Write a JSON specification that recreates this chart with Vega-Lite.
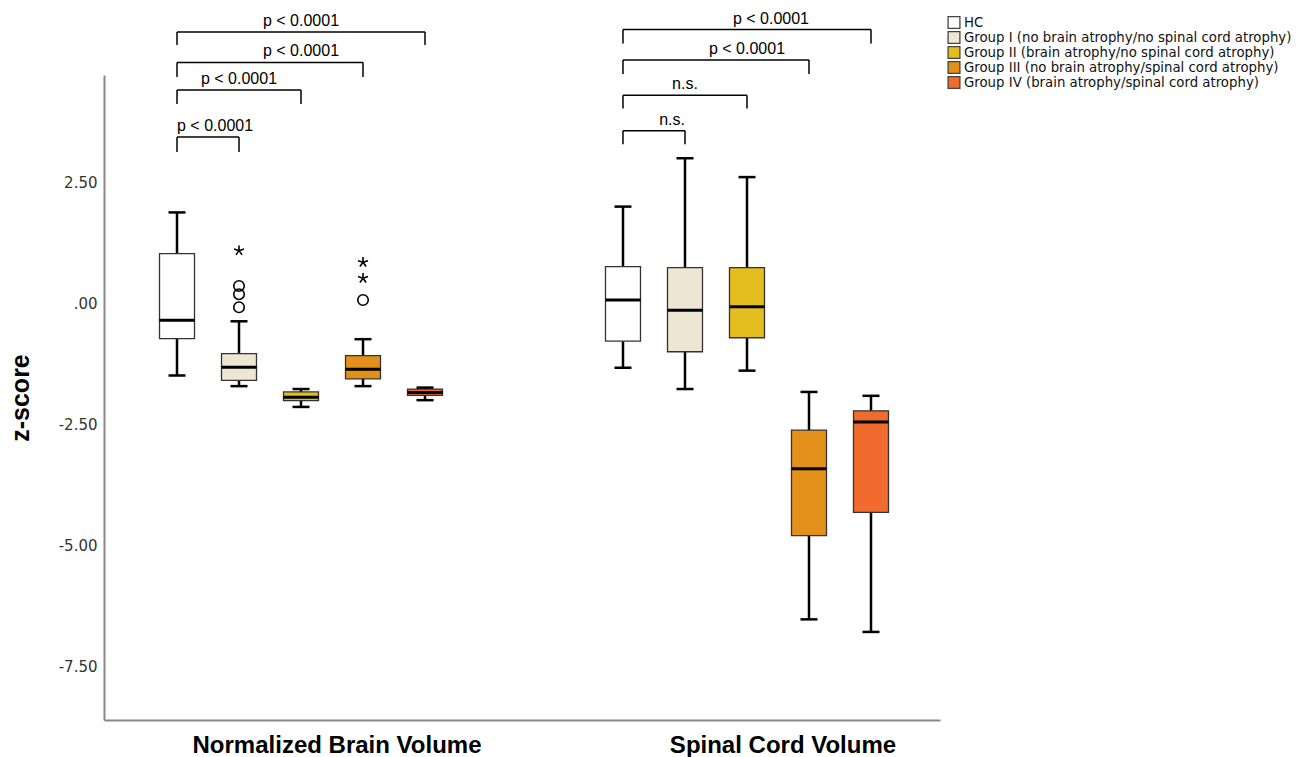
{
  "$schema": "https://vega.github.io/schema/vega-lite/v6.json",
  "width": 836,
  "height": 645,
  "autosize": "none",
  "padding": {"left": 104, "top": 75, "right": 359, "bottom": 37},
  "background": "white",
  "config": {"view": {"stroke": null}, "font": "Liberation Sans"},
  "datasets": {
    "boxes": [
      {"measure": "Normalized Brain Volume", "group": "HC", "lower": -1.49, "q1": -0.73, "median": -0.35, "q3": 1.03, "upper": 1.88},
      {"measure": "Normalized Brain Volume", "group": "Group I (no brain atrophy/no spinal cord atrophy)", "lower": -1.71, "q1": -1.59, "median": -1.32, "q3": -1.04, "upper": -0.37},
      {"measure": "Normalized Brain Volume", "group": "Group II (brain atrophy/no spinal cord atrophy)", "lower": -2.14, "q1": -2.01, "median": -1.94, "q3": -1.83, "upper": -1.77},
      {"measure": "Normalized Brain Volume", "group": "Group III (no brain atrophy/spinal cord atrophy)", "lower": -1.71, "q1": -1.56, "median": -1.36, "q3": -1.08, "upper": -0.74},
      {"measure": "Normalized Brain Volume", "group": "Group IV (brain atrophy/spinal cord atrophy)", "lower": -2.0, "q1": -1.9, "median": -1.84, "q3": -1.77, "upper": -1.74},
      {"measure": "Spinal Cord Volume", "group": "HC", "lower": -1.33, "q1": -0.78, "median": 0.07, "q3": 0.76, "upper": 2.0},
      {"measure": "Spinal Cord Volume", "group": "Group I (no brain atrophy/no spinal cord atrophy)", "lower": -1.77, "q1": -1.0, "median": -0.14, "q3": 0.74, "upper": 3.0},
      {"measure": "Spinal Cord Volume", "group": "Group II (brain atrophy/no spinal cord atrophy)", "lower": -1.39, "q1": -0.71, "median": -0.07, "q3": 0.74, "upper": 2.61},
      {"measure": "Spinal Cord Volume", "group": "Group III (no brain atrophy/spinal cord atrophy)", "lower": -6.53, "q1": -4.8, "median": -3.42, "q3": -2.62, "upper": -1.83},
      {"measure": "Spinal Cord Volume", "group": "Group IV (brain atrophy/spinal cord atrophy)", "lower": -6.79, "q1": -4.32, "median": -2.45, "q3": -2.22, "upper": -1.91}
    ],
    "outliers": [
      {"measure": "Normalized Brain Volume", "group": "Group I (no brain atrophy/no spinal cord atrophy)", "value": 1.09, "kind": "extreme"},
      {"measure": "Normalized Brain Volume", "group": "Group I (no brain atrophy/no spinal cord atrophy)", "value": 0.36, "kind": "outlier"},
      {"measure": "Normalized Brain Volume", "group": "Group I (no brain atrophy/no spinal cord atrophy)", "value": 0.19, "kind": "outlier"},
      {"measure": "Normalized Brain Volume", "group": "Group I (no brain atrophy/no spinal cord atrophy)", "value": -0.08, "kind": "outlier"},
      {"measure": "Normalized Brain Volume", "group": "Group III (no brain atrophy/spinal cord atrophy)", "value": 0.85, "kind": "extreme"},
      {"measure": "Normalized Brain Volume", "group": "Group III (no brain atrophy/spinal cord atrophy)", "value": 0.52, "kind": "extreme"},
      {"measure": "Normalized Brain Volume", "group": "Group III (no brain atrophy/spinal cord atrophy)", "value": 0.07, "kind": "outlier"}
    ],
    "brackets": [
      {"measure": "Normalized Brain Volume", "bracket": 1, "group": "HC", "top": 5.61, "bottom": 5.34},
      {"measure": "Normalized Brain Volume", "bracket": 1, "group": "Group IV (brain atrophy/spinal cord atrophy)", "top": 5.61, "bottom": 5.34},
      {"measure": "Normalized Brain Volume", "bracket": 2, "group": "HC", "top": 4.98, "bottom": 4.68},
      {"measure": "Normalized Brain Volume", "bracket": 2, "group": "Group III (no brain atrophy/spinal cord atrophy)", "top": 4.98, "bottom": 4.68},
      {"measure": "Normalized Brain Volume", "bracket": 3, "group": "HC", "top": 4.41, "bottom": 4.12},
      {"measure": "Normalized Brain Volume", "bracket": 3, "group": "Group II (brain atrophy/no spinal cord atrophy)", "top": 4.41, "bottom": 4.12},
      {"measure": "Normalized Brain Volume", "bracket": 4, "group": "HC", "top": 3.44, "bottom": 3.13},
      {"measure": "Normalized Brain Volume", "bracket": 4, "group": "Group I (no brain atrophy/no spinal cord atrophy)", "top": 3.44, "bottom": 3.13},
      {"measure": "Spinal Cord Volume", "bracket": 5, "group": "HC", "top": 5.66, "bottom": 5.37},
      {"measure": "Spinal Cord Volume", "bracket": 5, "group": "Group IV (brain atrophy/spinal cord atrophy)", "top": 5.66, "bottom": 5.37},
      {"measure": "Spinal Cord Volume", "bracket": 6, "group": "HC", "top": 5.03, "bottom": 4.74},
      {"measure": "Spinal Cord Volume", "bracket": 6, "group": "Group III (no brain atrophy/spinal cord atrophy)", "top": 5.03, "bottom": 4.74},
      {"measure": "Spinal Cord Volume", "bracket": 7, "group": "HC", "top": 4.3, "bottom": 4.03},
      {"measure": "Spinal Cord Volume", "bracket": 7, "group": "Group II (brain atrophy/no spinal cord atrophy)", "top": 4.3, "bottom": 4.03},
      {"measure": "Spinal Cord Volume", "bracket": 8, "group": "HC", "top": 3.57, "bottom": 3.29},
      {"measure": "Spinal Cord Volume", "bracket": 8, "group": "Group I (no brain atrophy/no spinal cord atrophy)", "top": 3.57, "bottom": 3.29}
    ],
    "labels_center": [
      {"measure": "Normalized Brain Volume", "group": "Group II (brain atrophy/no spinal cord atrophy)", "top": 5.61, "label": "p < 0.0001"},
      {"measure": "Normalized Brain Volume", "group": "Group II (brain atrophy/no spinal cord atrophy)", "top": 4.98, "label": "p < 0.0001"},
      {"measure": "Normalized Brain Volume", "group": "Group I (no brain atrophy/no spinal cord atrophy)", "top": 4.41, "label": "p < 0.0001"},
      {"measure": "Spinal Cord Volume", "group": "Group II (brain atrophy/no spinal cord atrophy)", "top": 5.03, "label": "p < 0.0001"},
      {"measure": "Spinal Cord Volume", "group": "Group I (no brain atrophy/no spinal cord atrophy)", "top": 4.3, "label": "n.s."}
    ],
    "labels_left": [
      {"measure": "Normalized Brain Volume", "group": "HC", "top": 3.44, "label": "p < 0.0001"}
    ],
    "labels_right": [
      {"measure": "Spinal Cord Volume", "group": "Group III (no brain atrophy/spinal cord atrophy)", "top": 5.66, "label": "p < 0.0001"},
      {"measure": "Spinal Cord Volume", "group": "Group I (no brain atrophy/no spinal cord atrophy)", "top": 3.57, "label": "n.s."}
    ]
  },
  "encoding": {
    "x": {
      "field": "measure",
      "type": "nominal",
      "scale": {"domain": ["Normalized Brain Volume", "Spinal Cord Volume"], "paddingInner": 0.3049, "paddingOuter": 0.0897, "align": 0.525},
      "axis": {"title": null, "ticks": false, "tickSize": 0, "domainColor": "#888888", "domainWidth": 2, "labelFont": "Liberation Sans", "labelFontSize": 24, "labelFontWeight": "bold", "labelColor": "black", "labelPadding": 13, "labelAngle": 0, "labelOffset": 36, "labelLimit": 400}
    },
    "xOffset": {
      "field": "group",
      "type": "nominal",
      "scale": {"domain": ["HC", "Group I (no brain atrophy/no spinal cord atrophy)", "Group II (brain atrophy/no spinal cord atrophy)", "Group III (no brain atrophy/spinal cord atrophy)", "Group IV (brain atrophy/spinal cord atrophy)"], "paddingInner": 0, "paddingOuter": 0}
    }
  },
  "layer": [
    {
      "data": {"name": "boxes"},
      "mark": {"type": "rule", "color": "black", "strokeWidth": 2.5, "opacity": 1},
      "encoding": {
        "y": {"field": "lower", "type": "quantitative", "title": "z-score", "scale": {"domain": [-8.61, 4.72], "nice": false, "zero": false}, "axis": {"values": [-7.5, -5, -2.5, 0, 2.5], "labelExpr": "datum.value == 0 ? '.00' : replace(format(datum.value, '.2f'), '\u2212', '-')", "ticks": false, "tickSize": 0, "grid": false, "domainColor": "#888888", "domainWidth": 2, "labelFont": "DejaVu Sans", "labelFontSize": 15, "labelColor": "#333333", "labelPadding": 7, "titleFont": "Liberation Sans", "titleFontSize": 25, "titleFontWeight": "bold", "titleColor": "black", "titleX": -84, "titleBaseline": "middle", "titleAngle": 270}},
        "y2": {"field": "upper"}
      }
    },
    {
      "data": {"name": "boxes"},
      "mark": {"type": "bar", "width": 35, "stroke": "#333333", "strokeWidth": 1.3, "opacity": 1},
      "encoding": {
        "y": {"field": "q1", "type": "quantitative", "title": "z-score", "scale": {"domain": [-8.61, 4.72], "nice": false, "zero": false}, "axis": {"values": [-7.5, -5, -2.5, 0, 2.5], "labelExpr": "datum.value == 0 ? '.00' : replace(format(datum.value, '.2f'), '\u2212', '-')", "ticks": false, "tickSize": 0, "grid": false, "domainColor": "#888888", "domainWidth": 2, "labelFont": "DejaVu Sans", "labelFontSize": 15, "labelColor": "#333333", "labelPadding": 7, "titleFont": "Liberation Sans", "titleFontSize": 25, "titleFontWeight": "bold", "titleColor": "black", "titleX": -84, "titleBaseline": "middle", "titleAngle": 270}},
        "y2": {"field": "q3"},
        "fill": {
          "field": "group", "type": "nominal",
          "scale": {"domain": ["HC", "Group I (no brain atrophy/no spinal cord atrophy)", "Group II (brain atrophy/no spinal cord atrophy)", "Group III (no brain atrophy/spinal cord atrophy)", "Group IV (brain atrophy/spinal cord atrophy)"], "range": ["#ffffff", "#ede6d3", "#e3be21", "#e3901a", "#f26b2e"]},
          "legend": {"title": null, "orient": "none", "legendX": 843, "legendY": -60, "symbolType": "square", "symbolSize": 140, "symbolStrokeColor": "#444444", "symbolStrokeWidth": 1.3, "labelFont": "DejaVu Sans", "labelFontSize": 13.3, "labelColor": "#111111", "rowPadding": 0, "clipHeight": 15, "labelOffset": 3, "padding": 0, "labelLimit": 400}
        }
      }
    },
    {
      "data": {"name": "boxes"},
      "mark": {"type": "tick", "color": "black", "size": 35, "thickness": 3, "opacity": 1},
      "encoding": {
        "y": {"field": "median", "type": "quantitative", "title": "z-score", "scale": {"domain": [-8.61, 4.72], "nice": false, "zero": false}, "axis": {"values": [-7.5, -5, -2.5, 0, 2.5], "labelExpr": "datum.value == 0 ? '.00' : replace(format(datum.value, '.2f'), '\u2212', '-')", "ticks": false, "tickSize": 0, "grid": false, "domainColor": "#888888", "domainWidth": 2, "labelFont": "DejaVu Sans", "labelFontSize": 15, "labelColor": "#333333", "labelPadding": 7, "titleFont": "Liberation Sans", "titleFontSize": 25, "titleFontWeight": "bold", "titleColor": "black", "titleX": -84, "titleBaseline": "middle", "titleAngle": 270}}
      }
    },
    {
      "data": {"name": "boxes"},
      "mark": {"type": "tick", "color": "black", "size": 17, "thickness": 2.5, "opacity": 1},
      "encoding": {
        "y": {"field": "lower", "type": "quantitative", "title": "z-score", "scale": {"domain": [-8.61, 4.72], "nice": false, "zero": false}, "axis": {"values": [-7.5, -5, -2.5, 0, 2.5], "labelExpr": "datum.value == 0 ? '.00' : replace(format(datum.value, '.2f'), '\u2212', '-')", "ticks": false, "tickSize": 0, "grid": false, "domainColor": "#888888", "domainWidth": 2, "labelFont": "DejaVu Sans", "labelFontSize": 15, "labelColor": "#333333", "labelPadding": 7, "titleFont": "Liberation Sans", "titleFontSize": 25, "titleFontWeight": "bold", "titleColor": "black", "titleX": -84, "titleBaseline": "middle", "titleAngle": 270}}
      }
    },
    {
      "data": {"name": "boxes"},
      "mark": {"type": "tick", "color": "black", "size": 17, "thickness": 2.5, "opacity": 1},
      "encoding": {
        "y": {"field": "upper", "type": "quantitative", "title": "z-score", "scale": {"domain": [-8.61, 4.72], "nice": false, "zero": false}, "axis": {"values": [-7.5, -5, -2.5, 0, 2.5], "labelExpr": "datum.value == 0 ? '.00' : replace(format(datum.value, '.2f'), '\u2212', '-')", "ticks": false, "tickSize": 0, "grid": false, "domainColor": "#888888", "domainWidth": 2, "labelFont": "DejaVu Sans", "labelFontSize": 15, "labelColor": "#333333", "labelPadding": 7, "titleFont": "Liberation Sans", "titleFontSize": 25, "titleFontWeight": "bold", "titleColor": "black", "titleX": -84, "titleBaseline": "middle", "titleAngle": 270}}
      }
    },
    {
      "data": {"name": "outliers"},
      "mark": {"type": "point", "filled": false, "stroke": "black", "strokeWidth": 1.6, "size": 110, "opacity": 1},
      "encoding": {
        "y": {"field": "value", "type": "quantitative", "title": "z-score", "scale": {"domain": [-8.61, 4.72], "nice": false, "zero": false}, "axis": {"values": [-7.5, -5, -2.5, 0, 2.5], "labelExpr": "datum.value == 0 ? '.00' : replace(format(datum.value, '.2f'), '\u2212', '-')", "ticks": false, "tickSize": 0, "grid": false, "domainColor": "#888888", "domainWidth": 2, "labelFont": "DejaVu Sans", "labelFontSize": 15, "labelColor": "#333333", "labelPadding": 7, "titleFont": "Liberation Sans", "titleFontSize": 25, "titleFontWeight": "bold", "titleColor": "black", "titleX": -84, "titleBaseline": "middle", "titleAngle": 270}},
        "shape": {"field": "kind", "type": "nominal", "scale": {"domain": ["outlier", "extreme"], "range": ["circle", "M0,0L0,-1M0,0L0.951,-0.309M0,0L0.588,0.809M0,0L-0.588,0.809M0,0L-0.951,-0.309"]}, "legend": null}
      }
    },
    {
      "data": {"name": "brackets"},
      "mark": {"type": "line", "color": "black", "strokeWidth": 1.5, "opacity": 1},
      "encoding": {
        "y": {"field": "top", "type": "quantitative", "title": "z-score", "scale": {"domain": [-8.61, 4.72], "nice": false, "zero": false}, "axis": {"values": [-7.5, -5, -2.5, 0, 2.5], "labelExpr": "datum.value == 0 ? '.00' : replace(format(datum.value, '.2f'), '\u2212', '-')", "ticks": false, "tickSize": 0, "grid": false, "domainColor": "#888888", "domainWidth": 2, "labelFont": "DejaVu Sans", "labelFontSize": 15, "labelColor": "#333333", "labelPadding": 7, "titleFont": "Liberation Sans", "titleFontSize": 25, "titleFontWeight": "bold", "titleColor": "black", "titleX": -84, "titleBaseline": "middle", "titleAngle": 270}},
        "detail": {"field": "bracket", "type": "nominal"}
      }
    },
    {
      "data": {"name": "brackets"},
      "mark": {"type": "rule", "color": "black", "strokeWidth": 1.5, "opacity": 1},
      "encoding": {
        "y": {"field": "top", "type": "quantitative", "title": "z-score", "scale": {"domain": [-8.61, 4.72], "nice": false, "zero": false}, "axis": {"values": [-7.5, -5, -2.5, 0, 2.5], "labelExpr": "datum.value == 0 ? '.00' : replace(format(datum.value, '.2f'), '\u2212', '-')", "ticks": false, "tickSize": 0, "grid": false, "domainColor": "#888888", "domainWidth": 2, "labelFont": "DejaVu Sans", "labelFontSize": 15, "labelColor": "#333333", "labelPadding": 7, "titleFont": "Liberation Sans", "titleFontSize": 25, "titleFontWeight": "bold", "titleColor": "black", "titleX": -84, "titleBaseline": "middle", "titleAngle": 270}},
        "y2": {"field": "bottom"}
      }
    },
    {
      "data": {"name": "labels_center"},
      "mark": {"type": "text", "font": "Liberation Sans", "fontSize": 16, "color": "black", "baseline": "bottom", "align": "center", "dy": -3},
      "encoding": {
        "y": {"field": "top", "type": "quantitative", "title": "z-score", "scale": {"domain": [-8.61, 4.72], "nice": false, "zero": false}, "axis": {"values": [-7.5, -5, -2.5, 0, 2.5], "labelExpr": "datum.value == 0 ? '.00' : replace(format(datum.value, '.2f'), '\u2212', '-')", "ticks": false, "tickSize": 0, "grid": false, "domainColor": "#888888", "domainWidth": 2, "labelFont": "DejaVu Sans", "labelFontSize": 15, "labelColor": "#333333", "labelPadding": 7, "titleFont": "Liberation Sans", "titleFontSize": 25, "titleFontWeight": "bold", "titleColor": "black", "titleX": -84, "titleBaseline": "middle", "titleAngle": 270}},
        "text": {"field": "label"}
      }
    },
    {
      "data": {"name": "labels_left"},
      "mark": {"type": "text", "font": "Liberation Sans", "fontSize": 16, "color": "black", "baseline": "bottom", "align": "left", "dy": -3},
      "encoding": {
        "y": {"field": "top", "type": "quantitative", "title": "z-score", "scale": {"domain": [-8.61, 4.72], "nice": false, "zero": false}, "axis": {"values": [-7.5, -5, -2.5, 0, 2.5], "labelExpr": "datum.value == 0 ? '.00' : replace(format(datum.value, '.2f'), '\u2212', '-')", "ticks": false, "tickSize": 0, "grid": false, "domainColor": "#888888", "domainWidth": 2, "labelFont": "DejaVu Sans", "labelFontSize": 15, "labelColor": "#333333", "labelPadding": 7, "titleFont": "Liberation Sans", "titleFontSize": 25, "titleFontWeight": "bold", "titleColor": "black", "titleX": -84, "titleBaseline": "middle", "titleAngle": 270}},
        "text": {"field": "label"}
      }
    },
    {
      "data": {"name": "labels_right"},
      "mark": {"type": "text", "font": "Liberation Sans", "fontSize": 16, "color": "black", "baseline": "bottom", "align": "right", "dy": -3},
      "encoding": {
        "y": {"field": "top", "type": "quantitative", "title": "z-score", "scale": {"domain": [-8.61, 4.72], "nice": false, "zero": false}, "axis": {"values": [-7.5, -5, -2.5, 0, 2.5], "labelExpr": "datum.value == 0 ? '.00' : replace(format(datum.value, '.2f'), '\u2212', '-')", "ticks": false, "tickSize": 0, "grid": false, "domainColor": "#888888", "domainWidth": 2, "labelFont": "DejaVu Sans", "labelFontSize": 15, "labelColor": "#333333", "labelPadding": 7, "titleFont": "Liberation Sans", "titleFontSize": 25, "titleFontWeight": "bold", "titleColor": "black", "titleX": -84, "titleBaseline": "middle", "titleAngle": 270}},
        "text": {"field": "label"}
      }
    }
  ]
}
